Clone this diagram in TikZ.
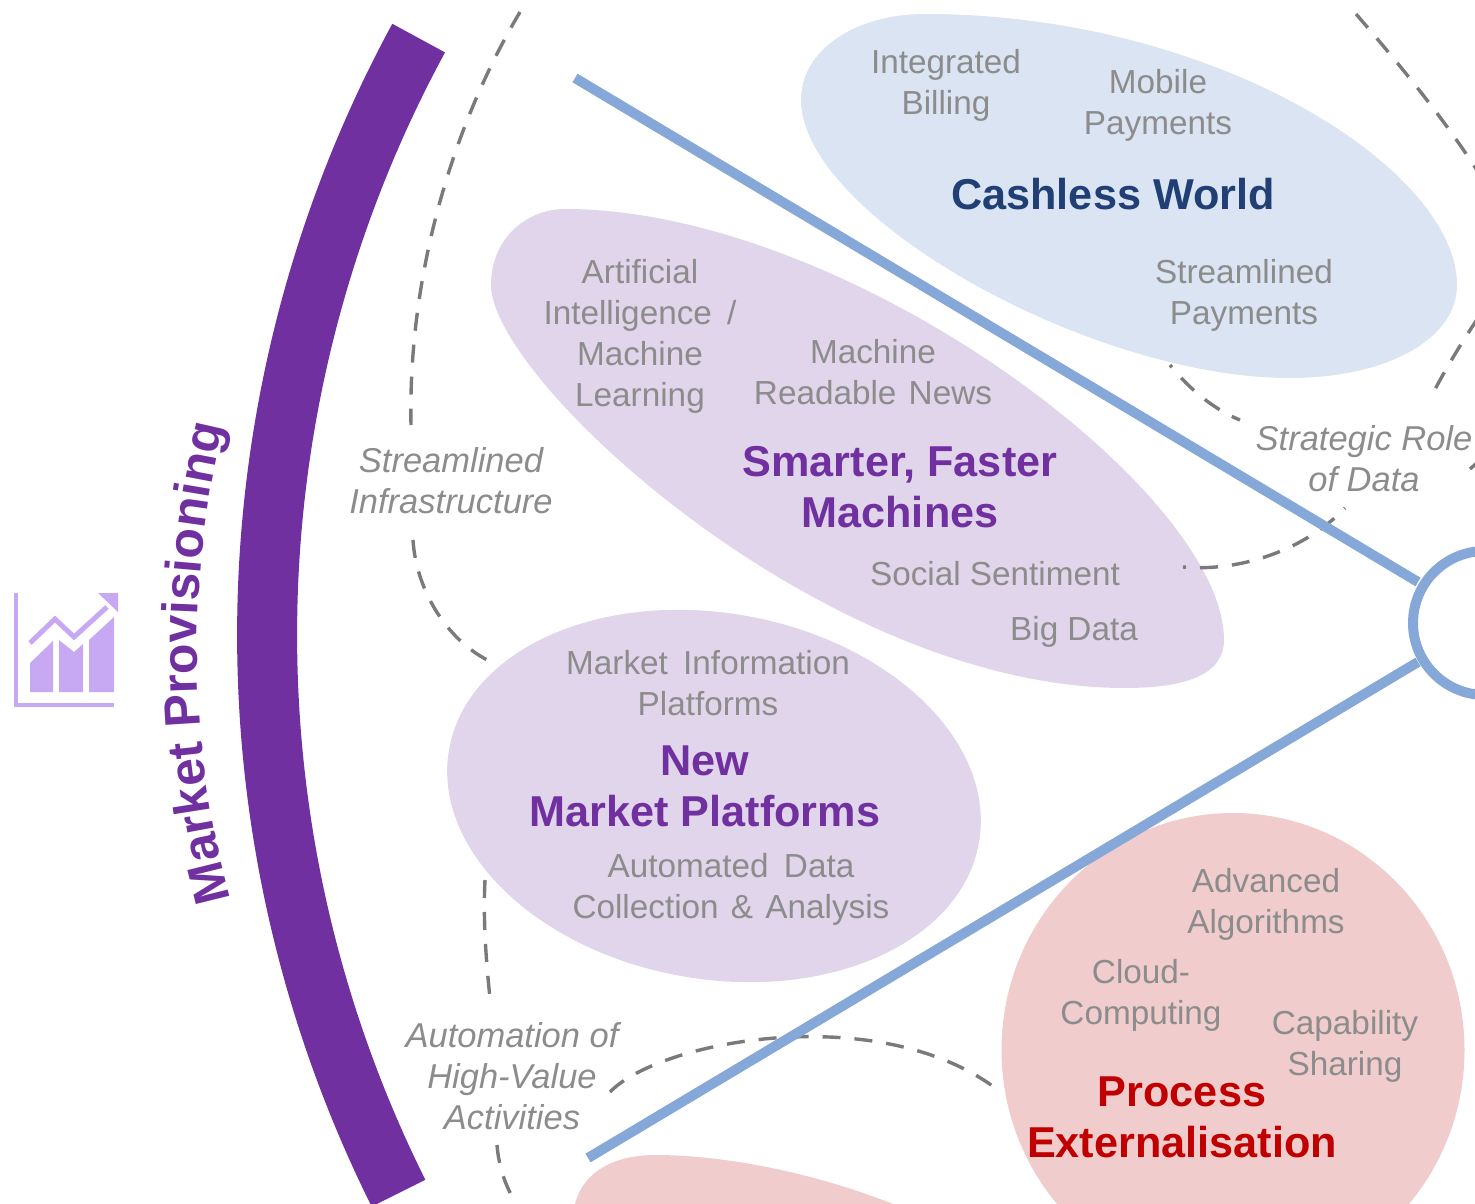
\documentclass[tikz,border=0pt]{standalone}
\usepackage{fontspec}
\setmainfont{Liberation Sans}
\usetikzlibrary{shapes.geometric,decorations.text}
\definecolor{bluefill}{HTML}{DAE4F2}
\definecolor{purplefill}{HTML}{E0D5EA}
\definecolor{redfill}{HTML}{F0CCCD}
\definecolor{graytxt}{HTML}{8C8C8C}
\definecolor{dashc}{HTML}{7A7A7A}
\definecolor{spoke}{HTML}{86A8D8}
\definecolor{bandc}{HTML}{7030A0}
\definecolor{navyc}{HTML}{1F3F75}
\definecolor{redc}{HTML}{C00000}
\definecolor{iconc}{HTML}{C6A9F2}
\tikzset{
  blob/.style={shape=ellipse,draw=none,inner sep=0pt,outer sep=0pt},
  item/.style={text=graytxt,align=center,inner sep=0pt,font=\fontsize{33.3}{41}\selectfont},
  note/.style={item,font=\fontsize{34.5}{41}\selectfont\itshape},
  title/.style={align=center,inner sep=0pt,font=\fontsize{43.2}{51}\selectfont\bfseries},
  link/.style={draw=dashc,line width=3.4pt,dash pattern=on 18pt off 14pt},
  dotlink/.style={link,dash phase=15pt},
  spokeline/.style={draw=spoke,line width=10pt},
}
\newcommand{\wsp}{\hspace{6pt}}
\newcommand{\wsq}{\hspace{3pt}}
\begin{document}
\begin{tikzpicture}[x=1pt,y=-1pt]
\useasboundingbox (0,0) rectangle (1475,1204);
\clip (0,0) rectangle (1475,1204);
% blobs
\fill[bluefill] (801,100) .. controls (801,50) and (855,14) .. (925,14)
  .. controls (1215,14) and (1457,169) .. (1457,285)
  .. controls (1457,340) and (1385,378) .. (1290,378)
  .. controls (1089,378) and (801,215) .. (801,100) -- cycle;
\fill[purplefill] (491,285) .. controls (491,240) and (525,209) .. (565,209)
  .. controls (846,209) and (1224,490) .. (1224,640)
  .. controls (1224,675) and (1185,688) .. (1125,688)
  .. controls (825,688) and (491,380) .. (491,285) -- cycle;
\node[blob,fill=purplefill,minimum width=538pt,minimum height=366pt,rotate=-10] (plat) at (714,796) {};
\node[blob,fill=redfill,minimum width=463pt,minimum height=474pt] (proc) at (1233,1050) {};
\fill[redfill] (575,1204) .. controls (582,1175) and (610,1155) .. (655,1155)
  .. controls (730,1155) and (820,1175) .. (893,1204) -- cycle;
% band
\path[fill=bandc] (1518,635) ++(208.5:1221) arc[start angle=208.5,end angle=153.5,radius=1221]
  -- ++(153.5:60) arc[start angle=153.5,end angle=208.5,radius=1281] -- cycle;
% dashed link ends
\coordinate (a1) at (520,12); \coordinate (a2) at (411,425);
\coordinate (b1) at (413,540); \coordinate (b2) at (498,665);
\coordinate (c1) at (485,880); \coordinate (c2) at (490,998);
\coordinate (d1) at (497,1145); \coordinate (d2) at (520,1210);
\coordinate (e1) at (610,1092); \coordinate (e2) at (998,1090);
\coordinate (f1) at (1170,365); \coordinate (f2) at (1240,420);
\coordinate (g1) at (1183,567); \coordinate (g2) at (1345,508);
\coordinate (h1) at (1356,14); \coordinate (h2) at (1478,172);
\coordinate (i1) at (1478,318); \coordinate (i2) at (1432,395);
\coordinate (j1) at (1478,462); \coordinate (j2) at (1470,469);
\draw[link] (a1) .. controls (450,130) and (408,280) .. (a2);
\draw[link] (b1) .. controls (416,590) and (448,645) .. (b2);
\draw[link] (c1) .. controls (483,920) and (486,960) .. (c2);
\draw[link] (d1) .. controls (499,1170) and (507,1190) .. (d2);
\draw[link] (e1) .. controls (660,1040) and (880,1000) .. (e2);
\draw[dotlink] (f1) .. controls (1190,390) and (1215,410) .. (f2);
\draw[dotlink] (g1) .. controls (1240,572) and (1305,550) .. (g2);
\draw[link] (h1) .. controls (1400,65) and (1445,120) .. (h2);
\draw[link] (i1) .. controls (1460,345) and (1445,370) .. (i2);
\draw[link] (j1) -- (j2);
% hub and spokes
\node[circle,draw=spoke,fill=white,line width=10pt,minimum size=144pt,inner sep=0pt,outer sep=0pt] (hub) at (1485,623) {};
\coordinate (s1) at (575,78); \coordinate (s2) at (588,1158);
\draw[spokeline] (s1) -- (1418,582);
\draw[spokeline] (s2) -- (1418,662);
% icon
\fill[iconc] (13.5,593) rectangle (18,707);
\fill[iconc] (13.5,702.5) rectangle (114,707);
\fill[iconc] (30,663) -- (53,641) -- (53,692) -- (30,692) -- cycle;
\fill[iconc] (59,640) -- (74,652) -- (83,644) -- (83,692) -- (59,692) -- cycle;
\fill[iconc] (89,640) -- (114,617) -- (114,692) -- (89,692) -- cycle;
\draw[iconc,line width=5pt] (30,643) -- (55,619) -- (74,637) -- (107,607);
\fill[iconc] (98,593) -- (118,593) -- (118,612) -- cycle;
% side title
\path[decorate,decoration={text along path,text align=left,
  text={|\fontsize{50}{50}\selectfont\bfseries\color{bandc}|Market Provisioning}}]
  (1147,650) ++(164.8:950) arc[start angle=164.8,end angle=200,radius=950];
% labels
\node[item] (n1) at (946,85) {Integrated\\Billing};
\node[item] (n2) at (1158,105) {Mobile\\Payments};
\node[title,text=navyc] (n3) at (1113,194) {Cashless World};
\node[item] (n4) at (1244,295) {Streamlined\\Payments};
\node[item] (n5) at (640,336) {Artificial\\Intelligence\wsp{} /\\Machine\\Learning};
\node[item] (n6) at (873,372) {Machine\\Readable\wsq{} News};
\node[title,text=bandc] (n7) at (900,487) {Smarter, Faster\\Machines};
\node[item] (n8) at (995,574) {Social Sentiment};
\node[item] (n9) at (1074,632) {Big Data};
\node[item] (n10) at (708,683) {Market\wsp{} Information\\Platforms};
\node[title,text=bandc] (n11) at (705,786) {New\\Market Platforms};
\node[item] (n12) at (731,889) {Automated\wsp{} Data\\Collection\wsq{} \&\wsq{} Analysis};
\node[item] (n13) at (1266,904) {Advanced\\Algorithms};
\node[item] (n14) at (1141,995) {Cloud-\\Computing};
\node[item] (n15) at (1345,1046) {Capability\\Sharing};
\node[title,text=redc] (n16) at (1182,1117) {Process\\Externalisation};
\node[note] (n17) at (451,481) {Streamlined\\Infrastructure};
\node[note] (n18) at (1364,459) {Strategic Role\\of Data};
\node[note] (n19) at (512,1076) {Automation of\\High-Value\\Activities};
\end{tikzpicture}
\end{document}
